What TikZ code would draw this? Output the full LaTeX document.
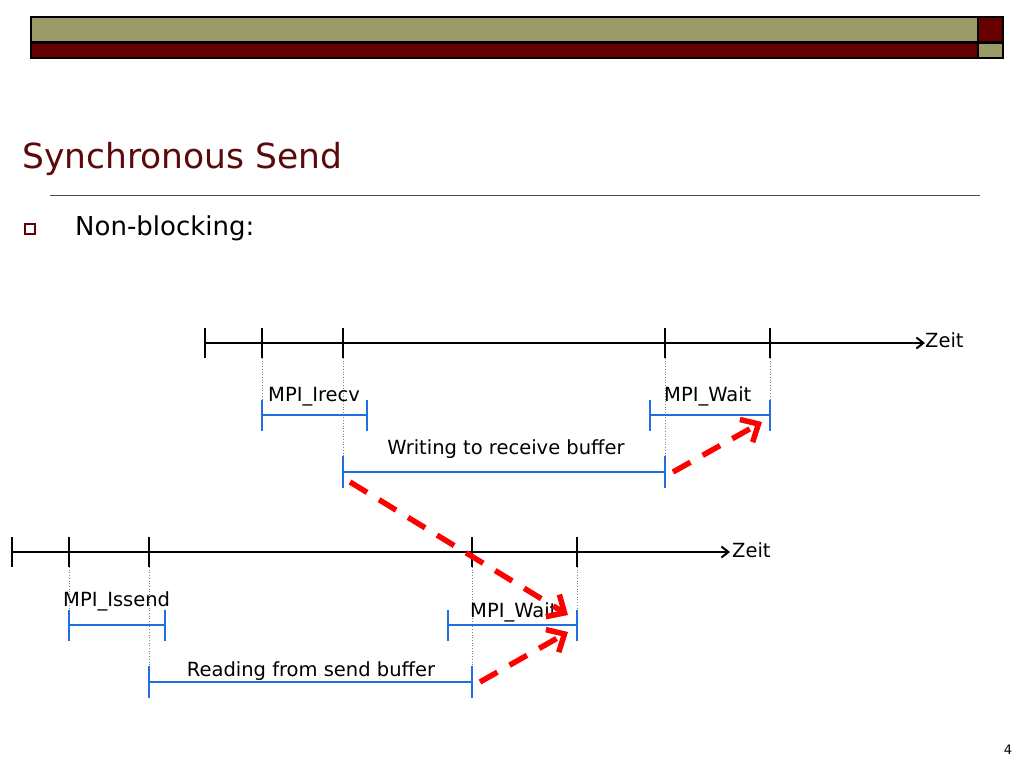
\documentclass[tikz,border=0pt]{standalone}
\usepackage{fontspec}
\setmainfont{DejaVu Sans}
\usetikzlibrary{arrows.meta}
\definecolor{olive}{HTML}{9B9B68}
\definecolor{dred}{HTML}{660000}
\definecolor{tred}{HTML}{5A0A0A}
\definecolor{mblue}{HTML}{1F6FE0}
\begin{document}
\begin{tikzpicture}[x=1pt,y=-1pt,
 ax/.style={line width=2pt,-{Straight Barb[length=7pt,width=11pt]}},
 tk/.style={line width=2pt},
 br/.style={draw=mblue,line width=1.8pt},
 dt/.style={gray,dotted,line width=0.7pt},
 ra/.style={red,line width=5.5pt,dash pattern=on 20pt off 14pt,-{Straight Barb[length=14pt,width=26pt,line width=5.5pt]}},
 lbl/.style={font=\fontsize{19.5}{22}\selectfont,inner sep=0pt}]
\useasboundingbox (0,0) rectangle (1024,768);
% header
\draw[fill=olive,line width=1.5pt] (31,17) rectangle (978,42);
\draw[fill=dred,line width=1.5pt] (978,17) rectangle (1003,42);
\draw[fill=dred,line width=1.5pt] (31,43) rectangle (978,58);
\draw[fill=olive,line width=1.5pt] (978,43) rectangle (1003,58);
\node[anchor=west,text=tred,font=\fontsize{34.5}{38}\selectfont,inner sep=0pt] (title) at (22,159) {Synchronous Send};
\draw[line width=1pt,gray!60!black] (50,195) -- (980,195);
\draw[line width=1.3pt,dred] (25,224) rectangle (35,234);
\node[anchor=west,font=\fontsize{26}{30}\selectfont,inner sep=0pt] (nb) at (75,228) {Non-blocking:};
% top axis
\coordinate (ta) at (205,343); \coordinate (tb) at (925,343);
\draw[ax] (ta) -- (tb);
\node[lbl,anchor=south west] (z1) at (925,348) {Zeit};
\foreach \x in {205,262,343,665,770} \draw[tk] (\x,328) -- (\x,358);
\draw[dt] (262,358) -- (262,400);
\draw[dt] (343,358) -- (343,472);
\draw[dt] (665,358) -- (665,472);
\draw[dt] (770,358) -- (770,400);
\draw[br] (262,415) -- (367,415) (262,400) -- (262,431) (367,400) -- (367,431);
\node[lbl,anchor=south west] (irecv) at (268,406) {MPI\_Irecv};
\draw[br] (650,415) -- (770,415) (650,400) -- (650,431) (770,400) -- (770,431);
\node[lbl,anchor=south west] (w1) at (664,406) {MPI\_Wait};
\draw[br] (343,472) -- (665,472) (343,456) -- (343,488) (665,456) -- (665,488);
\node[lbl,anchor=south] (wr) at (506,459) {Writing to receive buffer};
% bottom axis
\draw[ax] (12,552) -- (730,552);
\node[lbl,anchor=south west] (z2) at (732,558) {Zeit};
\foreach \x in {12,69,149,472,577} \draw[tk] (\x,537) -- (\x,567);
\draw[dt] (69,567) -- (69,610);
\draw[dt] (149,567) -- (149,682);
\draw[dt] (472,567) -- (472,682);
\draw[dt] (577,567) -- (577,610);
\draw[br] (69,625) -- (165,625) (69,610) -- (69,641) (165,610) -- (165,641);
\node[lbl,anchor=south west] (iss) at (63,611) {MPI\_Issend};
\draw[br] (448,625) -- (577,625) (448,610) -- (448,641) (577,610) -- (577,641);
\node[lbl,anchor=south west] (w2) at (470,622) {MPI\_Wait};
\draw[br] (149,682) -- (472,682) (149,666) -- (149,698) (472,666) -- (472,698);
\node[lbl,anchor=south] (rd) at (311,681) {Reading from send buffer};
% red arrows
\coordinate (r1a) at (350,482); \coordinate (r1b) at (568,615);
\coordinate (r2a) at (673,472); \coordinate (r2b) at (762,422);
\coordinate (r3a) at (480,682); \coordinate (r3b) at (568,632);
\draw[ra] (r1a) -- (r1b);
\draw[ra] (r2a) -- (r2b);
\draw[ra] (r3a) -- (r3b);
\node[font=\fontsize{13}{15}\selectfont,inner sep=0pt] (pg) at (1008,750) {4};
\end{tikzpicture}
\end{document}
